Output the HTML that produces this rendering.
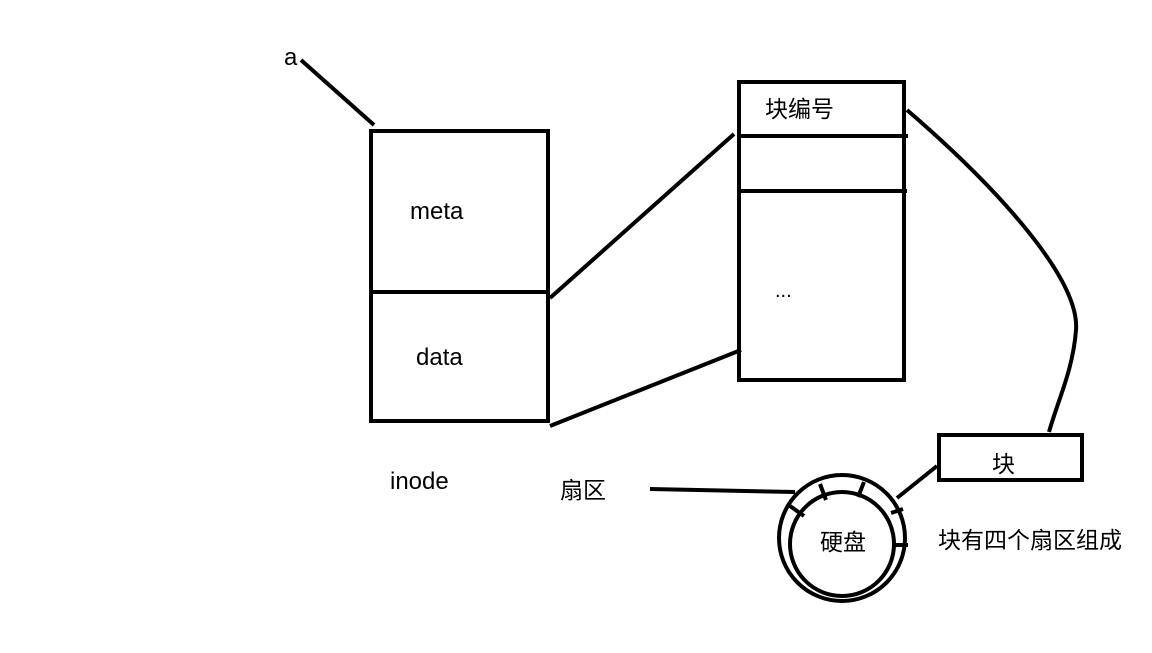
<!DOCTYPE html>
<html><head><meta charset="utf-8"><style>
body{margin:0;background:#fff;}
svg text{font-family:"Liberation Sans","Noto Sans CJK SC",sans-serif;fill:#000;}
</style></head><body>
<svg width="1152" height="648" viewBox="0 0 1152 648" xmlns="http://www.w3.org/2000/svg">
<g fill="none" stroke="#000" stroke-width="4">
<line x1="301" y1="60" x2="374" y2="125"/>
<rect x="371" y="131" width="177" height="290"/>
<line x1="371" y1="292" x2="550" y2="292"/>
<rect x="739" y="82" width="165" height="298"/>
<line x1="739" y1="136" x2="908" y2="136"/>
<line x1="739" y1="191" x2="907" y2="191"/>
<line x1="550" y1="298" x2="734" y2="134"/>
<line x1="550" y1="426" x2="741" y2="350"/>
<path d="M907,110 C1000,190 1080,280 1076,330 C1073,370 1058,400 1049,432"/>
<rect x="939" y="435" width="143" height="45"/>
<line x1="897" y1="498" x2="937" y2="466"/>
<line x1="650" y1="489" x2="795" y2="492"/>
<circle cx="842" cy="538" r="63"/>
<circle cx="842" cy="544" r="52"/>
<line x1="820" y1="484" x2="826" y2="500"/>
<line x1="864" y1="482" x2="858" y2="497"/>
<line x1="790" y1="506" x2="804" y2="516"/>
<line x1="891" y1="513" x2="903" y2="509"/>
<line x1="894" y1="545" x2="908" y2="545"/>
</g>
<text x="284" y="65" font-size="24">a</text>
<text x="410" y="219" font-size="24">meta</text>
<text x="416" y="365" font-size="24">data</text>
<text x="390" y="489" font-size="24">inode</text>
<text x="765" y="117" font-size="23">块编号</text>
<text x="775" y="297" font-size="20">...</text>
<text x="992" y="472" font-size="23">块</text>
<text x="560" y="498" font-size="23">扇区</text>
<text x="820" y="550" font-size="23">硬盘</text>
<text x="938" y="548" font-size="23">块有四个扇区组成</text>
</svg>
</body></html>
